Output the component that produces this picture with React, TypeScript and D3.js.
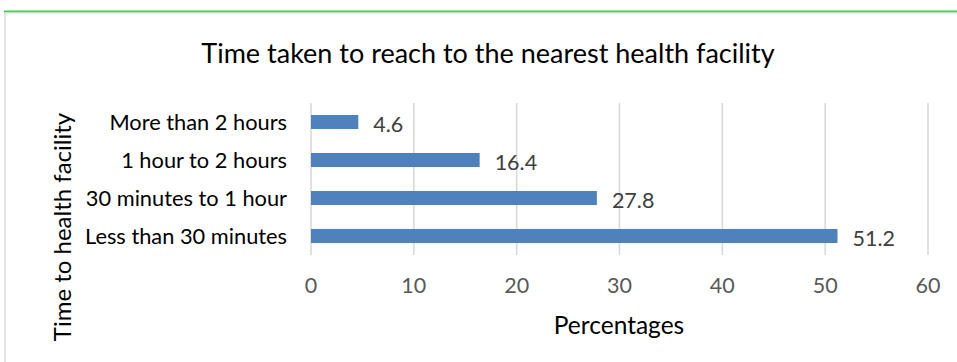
import React from "react";
import * as d3 from "d3";

const categories = [
  "More than 2 hours",
  "1 hour to 2 hours",
  "30 minutes to 1 hour",
  "Less than 30 minutes",
];
const values = [4.6, 16.4, 27.8, 51.2];
const xTicks = [0, 10, 20, 30, 40, 50, 60];
const title = "Time taken to reach to the nearest health facility";
const xTitle = "Percentages";
const yTitle = "Time to health facility";

const W = 957;
const H = 362;
const FONT = "Lato, 'Open Sans', sans-serif";

export default function App() {
  const x = d3.scaleLinear().domain([0, 60]).range([311, 928]);
  const y = d3
    .scaleBand<string>()
    .domain(categories)
    .range([103, 255])
    .paddingInner(0.63)
    .paddingOuter(0.315);

  return (
    <svg
      width={W}
      height={H}
      style={{ position: "absolute", left: 0, top: 0, background: "#fff" }}
      fontFamily={FONT}
    >
      <rect x={0} y={0} width={W} height={H} fill="#fff" />
      {/* frame */}
      <line x1={4} x2={W} y1={11.5} y2={11.5} stroke="#2fe02f" strokeWidth={2} />
      <line x1={5} x2={W} y1={13.2} y2={13.2} stroke="#e3e3e3" strokeWidth={1.2} />
      <line x1={5} x2={5} y1={12} y2={H} stroke="#d9d9d9" strokeWidth={1.5} />

      {/* title */}
      <text
        x={488}
        y={52}
        textAnchor="middle"
        dominantBaseline="central"
        fontSize={27}
        fill="#000"
      >
        {title}
      </text>

      {/* gridlines */}
      {xTicks.map((t) => (
        <line
          key={t}
          x1={x(t)}
          x2={x(t)}
          y1={103}
          y2={255}
          stroke="#d9d9d9"
          strokeWidth={1.6}
        />
      ))}

      {/* bars */}
      {categories.map((c, i) => (
        <rect
          key={c}
          x={x(0)}
          y={y(c)!}
          width={x(values[i]) - x(0)}
          height={y.bandwidth()}
          fill="#4f81bd"
        />
      ))}

      {/* value labels */}
      {categories.map((c, i) => (
        <text
          key={c}
          x={x(values[i]) + 15}
          y={y(c)! + y.bandwidth() / 2 + 1.5}
          dominantBaseline="central"
          fontSize={21.5}
          fill="#404040"
        >
          {values[i].toFixed(1)}
        </text>
      ))}

      {/* category labels */}
      {categories.map((c) => (
        <text
          key={c}
          x={287}
          y={y(c)! + y.bandwidth() / 2 - 1}
          textAnchor="end"
          dominantBaseline="central"
          fontSize={21.8}
          fill="#000"
        >
          {c}
        </text>
      ))}

      {/* x tick labels */}
      {xTicks.map((t) => (
        <text
          key={t}
          x={x(t)}
          y={285}
          textAnchor="middle"
          dominantBaseline="central"
          fontSize={21.5}
          fill="#595959"
        >
          {t}
        </text>
      ))}

      {/* axis titles */}
      <text
        x={619}
        y={324}
        textAnchor="middle"
        dominantBaseline="central"
        fontSize={24.5}
        fill="#000"
      >
        {xTitle}
      </text>
      <text
        transform={`translate(61,227) rotate(-90)`}
        textAnchor="middle"
        dominantBaseline="central"
        fontSize={24}
        fill="#000"
      >
        {yTitle}
      </text>
    </svg>
  );
}
